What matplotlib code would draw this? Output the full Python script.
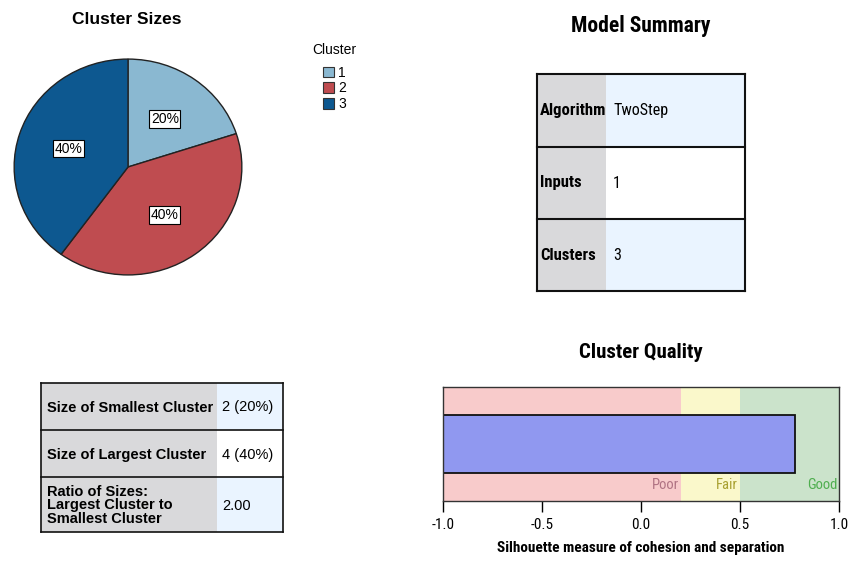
import matplotlib.pyplot as plt
from matplotlib.patches import Rectangle

clusters = ["1", "2", "3"]
cluster_share = [20, 40, 40]
cluster_colors = ["#8ab8d1", "#bf4c50", "#0d5890"]

summary_labels = ["Algorithm", "Inputs", "Clusters"]
summary_values = ["TwoStep", "1", "3"]

size_labels = ["Size of Smallest Cluster", "Size of Largest Cluster",
               "Ratio of Sizes:\nLargest Cluster to\nSmallest Cluster"]
size_values = ["2 (20%)", "4 (40%)", "2.00"]

band_names = ["Poor", "Fair", "Good"]
band_edges = [-1.0, 0.2, 0.5, 1.0]
band_colors = ["#f8cbcb", "#faf8cb", "#cbe3cb"]
band_text = ["#b07383", "#a8a030", "#4fae4f"]
silhouette = 0.78

narrow = ["Roboto Condensed", "Liberation Sans", "DejaVu Sans"]
arial = ["Liberation Sans", "DejaVu Sans"]

W, H = 848, 564
fig = plt.figure(figsize=(W / 100, H / 100), dpi=100)


def box(x0, y0, x1, y1):
    return [x0 / W, 1 - y1 / H, (x1 - x0) / W, (y1 - y0) / H]


# overlay in pixel coordinates for titles and tables
bg = fig.add_axes([0, 0, 1, 1])
bg.set_xlim(0, W)
bg.set_ylim(H, 0)
bg.axis("off")

# pie
ax = fig.add_axes(box(13, 58, 243, 276))
wedges, _, autotexts = ax.pie(cluster_share, colors=cluster_colors, startangle=90,
                              counterclock=False, autopct="%d%%", pctdistance=0.55,
                              wedgeprops=dict(edgecolor="#222222", linewidth=1))
for t in autotexts:
    t.set_fontfamily(arial)
    t.set_fontsize(10)
    t.set_bbox(dict(facecolor="white", edgecolor="black", boxstyle="square,pad=0.12", linewidth=0.8))
ax.set_aspect("auto")
ax.set_xlim(-1.01, 1.01)
ax.set_ylim(-1.01, 1.01)
leg = ax.legend(wedges, clusters, title="Cluster", loc="upper left",
                bbox_to_anchor=(300 / W, 1 - 31 / H), bbox_transform=fig.transFigure,
                frameon=False, fontsize=10, title_fontsize=10, handlelength=0.8,
                handleheight=0.8, handletextpad=0.3, labelspacing=0.12)
leg._legend_box.sep = 6
for t in leg.get_texts() + [leg.get_title()]:
    t.set_fontfamily(arial)
for p in leg.get_patches():
    p.set_edgecolor("#333333")
    p.set_linewidth(0.8)

bg.text(127, 19, "Cluster Sizes", ha="center", va="center", fontsize=12.5,
        fontweight="bold", family=arial)

# model summary table
bg.text(641, 26, "Model Summary", ha="center", va="center", fontsize=15.5,
        fontweight="bold", family=narrow)
rows = [74, 147, 219, 291]
for i in range(3):
    y0, y1 = rows[i], rows[i + 1]
    bg.add_patch(Rectangle((537, y0), 69, y1 - y0, facecolor="#d9d9db", edgecolor="none"))
    bg.add_patch(Rectangle((606, y0), 139, y1 - y0,
                           facecolor="white" if i == 1 else "#eaf4ff", edgecolor="none"))
    bg.text(540, (y0 + y1) / 2, summary_labels[i], ha="left", va="center", fontsize=12,
            fontweight="bold", family=narrow)
    bg.text(613, (y0 + y1) / 2, summary_values[i], ha="left", va="center", fontsize=11.5,
            family=narrow)
for y in rows:
    bg.plot([537, 745], [y, y], color="#111111", lw=1.5)
bg.plot([537, 537], [74, 291], color="#111111", lw=1.5)
bg.plot([745, 745], [74, 291], color="#111111", lw=1.5)

# sizes table
rows = [383, 430, 477, 532]
for i in range(3):
    y0, y1 = rows[i], rows[i + 1]
    bg.add_patch(Rectangle((41, y0), 176, y1 - y0, facecolor="#d9d9db", edgecolor="none"))
    bg.add_patch(Rectangle((217, y0), 66, y1 - y0,
                           facecolor="white" if i == 1 else "#eaf4ff", edgecolor="none"))
    bg.text(47, (y0 + y1) / 2 + 1, size_labels[i], ha="left", va="center", fontsize=10.5,
            fontweight="bold", family=arial, linespacing=0.92)
    bg.text(222, (y0 + y1) / 2 + 1, size_values[i], ha="left", va="center", fontsize=10.5,
            family=arial)
for y in rows:
    bg.plot([41, 283], [y, y], color="#111111", lw=1.2)
bg.plot([41, 41], [383, 532], color="#111111", lw=1.2)
bg.plot([283, 283], [383, 532], color="#111111", lw=1.2)

# cluster quality
bg.text(641, 353, "Cluster Quality", ha="center", va="center", fontsize=15,
        fontweight="bold", family=narrow)
q = fig.add_axes(box(443, 387, 839, 501))
for i in range(3):
    q.axvspan(band_edges[i], band_edges[i + 1], color=band_colors[i], lw=0)
    q.text(band_edges[i + 1] - 0.01, 0.14, band_names[i], ha="right", va="center",
           color=band_text[i], fontsize=10.5, family=narrow)
q.barh(0.5, silhouette - band_edges[0], left=band_edges[0], height=0.51,
       color="#9098f0", edgecolor="#111111", linewidth=1.3)
q.set_xlim(-1, 1)
q.set_ylim(0, 1)
q.set_yticks([])
q.set_xticks([-1.0, -0.5, 0.0, 0.5, 1.0])
q.set_xticklabels(["-1.0", "-0.5", "0.0", "0.5", "1.0"], family=narrow, fontsize=11)
q.tick_params(axis="x", length=8, width=1, pad=4)
for s in q.spines.values():
    s.set_color("#333333")
    s.set_linewidth(1)
q.set_xlabel("Silhouette measure of cohesion and separation", fontsize=11,
             fontweight="bold", family=narrow, labelpad=7)

fig.savefig("out.png", dpi=100)
